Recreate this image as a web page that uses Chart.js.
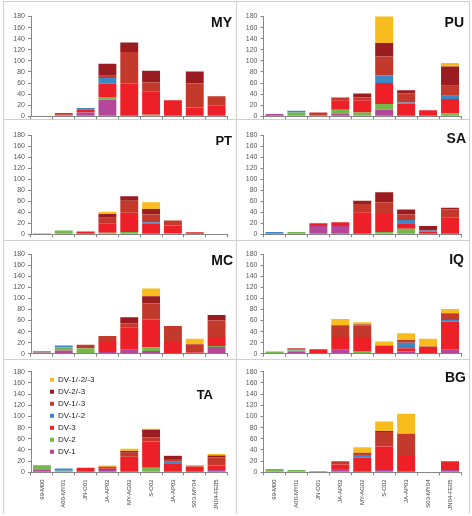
<!DOCTYPE html>
<html>
<head>
<meta charset="utf-8">
<title>Dengue serotypes by region</title>
<script src="https://cdn.jsdelivr.net/npm/chart.js@4.4.1/dist/chart.umd.min.js"></script>
<style>
  body { margin: 0; background: #fff; }
  #board { position: relative; width: 472px; height: 516px; overflow: hidden; }
  #board canvas { position: absolute; }
  .rule { position: absolute; background: #d0d0d0; }
  .region { position: absolute; font-family: "Liberation Sans", Arial, sans-serif; font-weight: bold; color: #111; line-height: 1; white-space: nowrap; }
</style>
</head>
<body>
<div id="board"></div>
<script>
const periods = ["99-M00", "A00-MY01", "JN-O01", "JA-AP02", "MY-AG02", "S-O02", "JA-AP03", "S03-MY04", "JN04-FE05"];
const serotypes = ["DV-1", "DV-2", "DV-3", "DV-1/-2", "DV-1/-3", "DV-2/-3", "DV-1/-2/-3"];

// one row per serotype (same order as above), one value per period
const MY = [
  [0, 2, 7, 30, 0, 0, 0, 0, 0],
  [1, 0, 0, 5, 1, 3, 0, 0, 0],
  [0, 1, 5, 24, 58, 42, 29, 16, 20],
  [0, 0, 3, 10, 0, 0, 0, 0, 0],
  [0, 3, 0, 4, 57, 16, 0, 43, 16],
  [0, 0, 0, 22, 17, 21, 0, 22, 0],
  [0, 0, 0, 0, 0, 0, 0, 0, 0]
];
const PU = [
  [4, 1, 0, 5, 1, 12, 0, 0, 2],
  [0, 6, 0, 7, 6, 10, 0, 0, 3],
  [0, 0, 2, 17, 22, 38, 23, 11, 26],
  [0, 3, 0, 0, 0, 14, 2, 0, 6],
  [0, 0, 5, 5, 5, 34, 16, 0, 18],
  [0, 0, 0, 0, 7, 24, 6, 0, 35],
  [0, 0, 0, 0, 0, 53, 0, 0, 6]
];
const PT = [
  [0, 0, 0, 0, 0, 0, 2, 0, 0],
  [2, 7, 0, 3, 4, 0, 0, 0, 0],
  [0, 0, 5, 17, 35, 20, 14, 3, 0],
  [0, 0, 0, 0, 0, 2, 0, 0, 0],
  [0, 0, 0, 10, 22, 14, 9, 1, 0],
  [0, 0, 0, 7, 8, 10, 0, 0, 0],
  [0, 0, 0, 4, 0, 12, 0, 0, 0]
];
const SA = [
  [0, 0, 15, 15, 0, 0, 2, 0, 0],
  [1, 4, 0, 0, 0, 4, 8, 0, 0],
  [0, 0, 5, 7, 40, 33, 10, 5, 30],
  [3, 0, 0, 0, 0, 0, 6, 2, 0],
  [0, 0, 0, 0, 15, 21, 10, 0, 15],
  [0, 0, 0, 0, 6, 18, 9, 8, 3],
  [0, 0, 0, 0, 0, 0, 0, 0, 0]
];
const MC = [
  [2, 6, 0, 3, 7, 5, 0, 0, 12],
  [3, 5, 10, 0, 0, 6, 0, 0, 2],
  [0, 0, 2, 20, 41, 51, 21, 2, 16],
  [0, 4, 0, 0, 0, 0, 0, 0, 0],
  [0, 0, 4, 9, 7, 29, 29, 15, 30],
  [0, 0, 0, 0, 11, 13, 0, 0, 10],
  [0, 0, 0, 0, 0, 14, 0, 10, 0]
];
const IQ = [
  [1, 3, 1, 7, 0, 0, 4, 0, 7],
  [3, 3, 0, 0, 5, 0, 0, 0, 0],
  [0, 0, 7, 23, 25, 14, 6, 12, 51],
  [0, 2, 0, 0, 0, 0, 10, 0, 3],
  [0, 2, 0, 21, 21, 1, 5, 1, 12],
  [0, 0, 0, 1, 2, 0, 0, 0, 0],
  [0, 0, 0, 11, 4, 7, 12, 14, 8]
];
const TA = [
  [4, 1, 0, 4, 0, 0, 0, 0, 4],
  [8, 2, 0, 0, 0, 8, 0, 0, 0],
  [0, 0, 8, 3, 28, 47, 16, 10, 8],
  [1, 4, 0, 0, 0, 0, 3, 0, 0],
  [0, 0, 0, 3, 7, 8, 5, 1, 15],
  [0, 0, 0, 0, 3, 13, 5, 0, 3],
  [0, 0, 0, 2, 4, 2, 1, 2, 3]
];
const BG = [
  [1, 0, 1, 6, 1, 4, 0, 0, 4],
  [5, 4, 0, 0, 0, 0, 0, 0, 0],
  [0, 0, 1, 8, 25, 42, 31, 0, 16],
  [0, 0, 0, 0, 5, 0, 0, 0, 0],
  [0, 0, 0, 6, 4, 26, 38, 0, 0],
  [0, 0, 0, 0, 0, 2, 0, 0, 0],
  [0, 0, 0, 0, 10, 17, 36, 0, 0]
];

const regions = ["MY", "PU", "PT", "SA", "MC", "IQ", "TA", "BG"];
const regionValues = { MY, PU, PT, SA, MC, IQ, TA, BG };

const colors = ["#b5479b", "#74b84b", "#ee2027", "#3e87c7", "#c3392c", "#9a1c20", "#f8bc1e"];
const axisGray = "#868686";
const fontFam = "'Liberation Sans', Arial, sans-serif";

// panel geometry (px in the page)
const cols = [
  { x: 0, axis: 31, right: 227.5 },
  { x: 236, axis: 263.5, right: 461 }
];
const rows = [
  { top: 16.5, zero: 116.3 },
  { top: 135, zero: 234.3 },
  { top: 254.2, zero: 353.7 },
  { top: 371.8, zero: 472.3 }
];
// right edge, vertical centre, size
const titlePos = {
  MY: [232, 22, 14], PU: [464, 22, 14], PT: [232, 140, 13], SA: [466, 138, 14],
  MC: [233, 260, 14], IQ: [464, 259, 14], TA: [213, 394, 13], BG: [466, 377, 14]
};

const board = document.getElementById("board");

// panel frame lines
[[3, 1, 1, 512], [236, 1, 1, 512], [469, 1, 1, 512],
 [3, 1, 467, 1], [3, 119, 467, 1], [3, 240, 467, 1], [3, 359, 467, 1]].forEach(r => {
  const d = document.createElement("div");
  d.className = "rule";
  d.style.left = r[0] + "px"; d.style.top = r[1] + "px";
  d.style.width = r[2] + "px"; d.style.height = r[3] + "px";
  board.appendChild(d);
});

// puts the legend inside the plot, near the top left
const legendNudge = {
  id: "legendNudge",
  afterLayout(chart, args, opts) {
    const lg = chart.legend;
    if (!lg || !lg.options.display) return;
    const ca = chart.chartArea;
    lg.left = ca.left + (opts.dx || 0);
    lg.right = lg.left + lg.width;
    lg.top = ca.top + (opts.dy || 0);
    lg.bottom = lg.top + lg.height;
  }
};

regions.forEach((name, i) => {
  const col = cols[i % 2];
  const row = rows[Math.floor(i / 2)];
  const last = i >= 6;
  const below = last ? 46 : 8;
  const top = Math.floor(row.top - 16);
  const h = Math.ceil(row.zero + below - top);

  const cv = document.createElement("canvas");
  cv.width = 236;
  cv.height = h;
  cv.style.left = col.x + "px";
  cv.style.top = top + "px";
  board.appendChild(cv);

  new Chart(cv, {
    type: "bar",
    data: {
      labels: periods,
      datasets: serotypes.map((s, k) => ({
        label: s,
        data: regionValues[name][k],
        backgroundColor: colors[k],
        borderWidth: 0,
        barPercentage: 0.82,
        categoryPercentage: 1
      }))
    },
    options: {
      responsive: false,
      animation: false,
      events: [],
      layout: {
        padding: {
          left: 4,
          right: col.x + 236 - col.right,
          top: row.top - top,
          bottom: h - (row.zero - top) - (below - 2)
        }
      },
      scales: {
        x: {
          stacked: true,
          offset: true,
          grid: { display: true, offset: true, drawOnChartArea: false, drawTicks: true, tickLength: 3, color: axisGray },
          border: { display: true, color: axisGray, width: 1 },
          ticks: {
            display: last, autoSkip: false, minRotation: 90, maxRotation: 90, padding: 4,
            color: "#404040", font: { family: fontFam, size: 6 }
          },
          afterFit: s => { s.height = below - 2; }
        },
        y: {
          stacked: true,
          min: 0,
          max: 180,
          grid: { drawOnChartArea: false, drawTicks: true, tickLength: 3, color: axisGray },
          border: { display: true, color: axisGray },
          ticks: { stepSize: 20, autoSkip: false, padding: 3, color: "#595959", font: { family: fontFam, size: 7 } },
          afterFit: s => { s.width = col.axis - col.x - 4; }
        }
      },
      plugins: {
        legend: {
          display: name === "TA",
          position: "chartArea",
          align: "start",
          reverse: true,
          labels: { boxWidth: 4, boxHeight: 4, padding: 4, color: "#222", font: { family: fontFam, size: 8 } }
        },
        tooltip: { enabled: false },
        legendNudge: { dx: 15, dy: 0 }
      }
    },
    plugins: [legendNudge]
  });

  const t = titlePos[name];
  const d = document.createElement("div");
  d.className = "region";
  d.textContent = name;
  d.style.fontSize = t[2] + "px";
  d.style.right = (472 - t[0]) + "px";
  d.style.top = (t[1] - 0.49 * t[2]) + "px";
  board.appendChild(d);
});
</script>
</body>
</html>
